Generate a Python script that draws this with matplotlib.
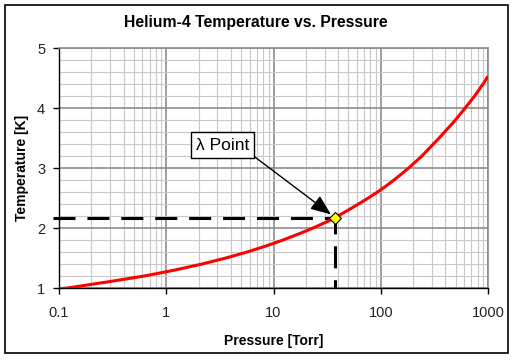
import matplotlib
matplotlib.use('Agg')
import matplotlib.pyplot as plt
from matplotlib.patches import Rectangle
from matplotlib.ticker import LogLocator, MultipleLocator, FixedLocator
import numpy as np

plt.rcParams['font.family'] = ['Liberation Sans', 'DejaVu Sans']

# Helium-4 vapour pressure curve
pressure = [0.1, 0.12, 0.28, 0.625, 1.21, 2.16, 3.6, 5.69, 8.5, 12.3, 17.1, 23.4, 31.1, 37.8,
            39.8, 50.0, 62.0, 76.5, 93.4, 112.0, 133.0, 156.0, 182.0, 242.0, 350.0, 481.0,
            613.0, 750.0, 900.0, 1000.0]
temperature = [0.985, 1.0, 1.1, 1.2, 1.3, 1.4, 1.5, 1.6, 1.7, 1.8, 1.9, 2.0, 2.1, 2.17,
               2.2, 2.3, 2.4, 2.5, 2.6, 2.7, 2.8, 2.9, 3.0, 3.2, 3.5, 3.77,
               4.0, 4.2, 4.4, 4.53]

lambda_p = 37.8
lambda_t = 2.17

fig = plt.figure(figsize=(5.15, 3.6), dpi=100)
ax = fig.add_axes([59/515, 1-288/360, (488-59)/515, (288-48)/360])

ax.plot(pressure, temperature, color='#ff0000', lw=2.2, zorder=4, solid_capstyle='butt')

# dashed guide lines to the lambda point
ax.plot([0.088, lambda_p], [lambda_t, lambda_t], color='black', lw=2.2, ls=(0, (7.2, 3.9)),
        clip_on=False, zorder=3, dash_capstyle='butt')
ax.plot([lambda_p, lambda_p], [lambda_t, 1], color='black', lw=2.2, ls=(2, (7.2, 3.9)),
        zorder=3, dash_capstyle='butt')
ax.plot([lambda_p], [lambda_t], marker='D', ms=6, mfc='#ffff00', mec='black', mew=0.8, zorder=5)

ax.annotate('λ Point', xy=(lambda_p, lambda_t), xytext=(3.35, 3.38),
            fontsize=12.5, ha='center', va='center',
            bbox=dict(boxstyle='square,pad=0.3', fc='white', ec='black', lw=1),
            arrowprops=dict(arrowstyle='-|>,head_length=1.0,head_width=0.4', color='black', lw=1,
                            shrinkA=0, shrinkB=4, relpos=(1, 0)),
            zorder=6)

ax.set_xscale('log')
ax.set_xlim(0.1, 1000)
ax.set_ylim(1, 5)
ax.xaxis.set_major_locator(FixedLocator([0.1, 1, 10, 100, 1000]))
ax.set_xticklabels(['0.1', '1', '10', '100', '1000'])
ax.xaxis.set_minor_locator(LogLocator(base=10, subs=np.arange(2, 10)))
ax.xaxis.set_minor_formatter(plt.NullFormatter())
ax.yaxis.set_major_locator(MultipleLocator(1))
ax.yaxis.set_minor_locator(MultipleLocator(0.2))

ax.grid(True, which='major', color='#8c8c8c', lw=1.2, zorder=0)
ax.grid(True, which='minor', color='#c8c8c8', lw=0.8, zorder=0)
ax.set_axisbelow(True)

for s in ['top', 'right']:
    ax.spines[s].set_color('#8c8c8c')
    ax.spines[s].set_linewidth(1.2)
for s in ['left', 'bottom']:
    ax.spines[s].set_color('black')
    ax.spines[s].set_linewidth(1)

ax.tick_params(which='major', direction='out', length=4, width=1, labelsize=10.5, color='black',
               labelcolor='#222222')
ax.tick_params(axis='x', pad=9)
ax.tick_params(axis='y', pad=6)
ax.tick_params(which='minor', length=0)

ax.set_xlabel('Pressure [Torr]', fontsize=10, fontweight='bold', labelpad=10)
ax.set_ylabel('Temperature [K]', fontsize=10, fontweight='bold')
ax.yaxis.set_label_coords(-(59-29)/429, 0.5)
fig.text(256/515, 1-22/360, 'Helium-4 Temperature vs. Pressure', fontsize=11.3, fontweight='bold',
         ha='center', va='center')

fig.patches.append(Rectangle((5/515, 1-353/360), 503/515, 348/360, transform=fig.transFigure,
                             fill=False, ec='black', lw=1.2))

fig.savefig('out.png', dpi=100)
